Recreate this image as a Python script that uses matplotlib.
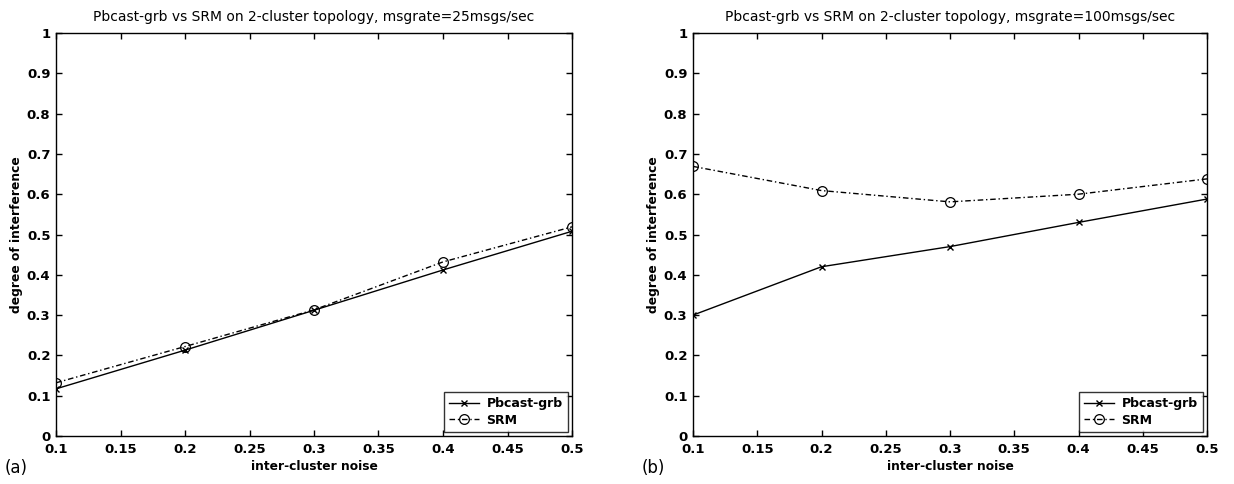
import matplotlib.pyplot as plt
import numpy as np

# data
noise = [0.1, 0.2, 0.3, 0.4, 0.5]
pbcast_25 = [0.117, 0.213, 0.312, 0.412, 0.508]
srm_25 = [0.132, 0.222, 0.313, 0.432, 0.519]
pbcast_100 = [0.300, 0.420, 0.470, 0.530, 0.588]
srm_100 = [0.669, 0.609, 0.581, 0.600, 0.638]

titles = ["Pbcast-grb vs SRM on 2-cluster topology, msgrate=25msgs/sec",
          "Pbcast-grb vs SRM on 2-cluster topology, msgrate=100msgs/sec"]
panel_tags = ["(a)", "(b)"]
xticks = [0.1, 0.15, 0.2, 0.25, 0.3, 0.35, 0.4, 0.45, 0.5]
xticklabels = ["0.1", "0.15", "0.2", "0.25", "0.3", "0.35", "0.4", "0.45", "0.5"]
yticks = [0, 0.1, 0.2, 0.3, 0.4, 0.5, 0.6, 0.7, 0.8, 0.9, 1]
yticklabels = ["0", "0.1", "0.2", "0.3", "0.4", "0.5", "0.6", "0.7", "0.8", "0.9", "1"]

plt.rcParams['font.family'] = ['DejaVu Sans']

fig = plt.figure(figsize=(12.34, 4.84), dpi=100)
W, H = 1234, 484
# axes boxes in pixels: left, right, top, bottom
boxes = [(56, 572, 33, 436), (693, 1207, 33, 436)]
series = [(pbcast_25, srm_25), (pbcast_100, srm_100)]

for i, (l, r, t, b) in enumerate(boxes):
    ax = fig.add_axes([l / W, 1 - b / H, (r - l) / W, (b - t) / H])
    pb, srm = series[i]
    ax.plot(noise, pb, '-', color='black', lw=1.0, marker='x', ms=4.5, mew=1.0,
            label='Pbcast-grb')
    ax.plot(noise, srm, '-.', color='black', lw=1.0, marker='o', ms=7, mfc='none',
            mew=0.9, label='SRM', dashes=(4, 2, 1, 2))
    ax.set_xlim(0.1, 0.5)
    ax.set_ylim(0, 1)
    ax.set_xticks(xticks)
    ax.set_xticklabels(xticklabels, fontsize=9.5, fontweight='bold')
    ax.set_yticks(yticks)
    ax.set_yticklabels(yticklabels, fontsize=9.5, fontweight='bold')
    ax.tick_params(direction='in', top=True, right=True, length=4, width=1)
    ax.tick_params(axis='x', pad=5)
    ax.tick_params(axis='y', pad=4)
    for s in ax.spines.values():
        s.set_linewidth(1.0)
    ax.set_title(titles[i], fontsize=10, pad=9)
    ax.set_xlabel('inter-cluster noise', fontsize=8.8, fontweight='bold', labelpad=3)
    ax.set_ylabel('degree of interference', fontsize=8.8, fontweight='bold', labelpad=3)
    leg = ax.legend(loc='lower right', fontsize=9, frameon=True, fancybox=False,
                    edgecolor='black', handlelength=2.4, borderpad=0.4,
                    labelspacing=0.3, borderaxespad=0.35, handletextpad=0.6)
    leg.get_frame().set_linewidth(1.0)
    for txt in leg.get_texts():
        txt.set_fontweight('bold')
    fig.text((l - 51) / W, 1 - 468 / H, panel_tags[i], fontsize=12, va='center', ha='left')

fig.savefig('out.png', dpi=100)
